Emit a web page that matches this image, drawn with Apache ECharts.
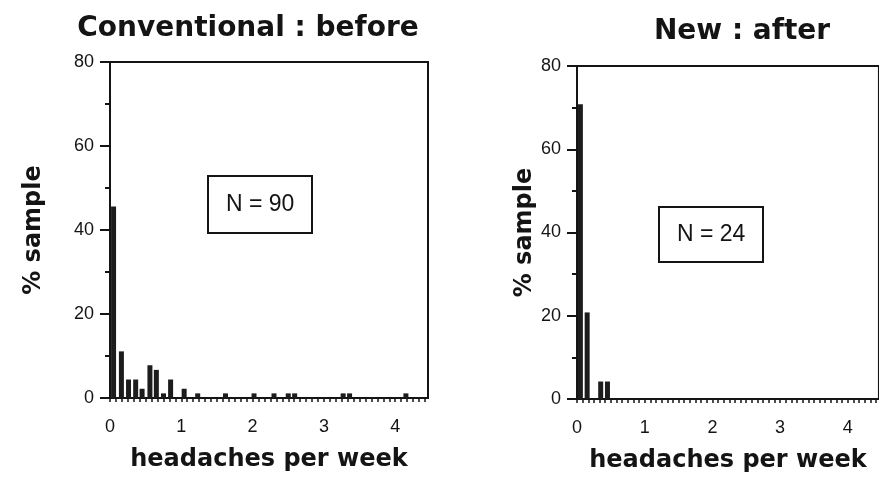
<!DOCTYPE html>
<html>
<head>
<meta charset="utf-8">
<script src="https://cdn.jsdelivr.net/npm/echarts@6/dist/echarts.min.js"></script>
<style>
html,body{margin:0;padding:0;background:#fff;}
#chart{width:879px;height:481px;}
</style>
</head>
<body>
<div id="chart"></div>
<script>
// ---- data ----
const beforeX = [0.05, 0.16, 0.26, 0.36, 0.45, 0.56, 0.65, 0.75, 0.85, 1.04, 1.23, 1.62, 2.02, 2.30, 2.50, 2.59, 3.27, 3.36, 4.15];
const beforePct = [45.6, 11.1, 4.4, 4.4, 2.2, 7.8, 6.7, 1.1, 4.4, 2.2, 1.1, 1.1, 1.1, 1.1, 1.1, 1.1, 1.1, 1.1, 1.1];
const afterX = [0.05, 0.15, 0.35, 0.45];
const afterPct = [70.8, 20.8, 4.2, 4.2];
const titles = ['Conventional : before', 'New : after'];
const nLabels = ['N = 90', 'N = 24'];
const yTicks = [0, 20, 40, 60, 80];
const xTickLabels = [0, 1, 2, 3, 4];

const ink = '#141414';
const boldFont = 'DejaVu Sans';
const plainFont = 'Liberation Sans';

function pairs(xs, ys) { return xs.map((x, i) => [x, ys[i]]); }

function xAxisFor(gridIndex) {
  return {
    type: 'value', gridIndex, min: 0, max: 4.46, interval: 1 / 12,
    name: 'headaches per week', nameLocation: 'middle', nameGap: 50,
    nameTextStyle: { fontFamily: boldFont, fontWeight: 'bold', fontSize: 24, color: ink },
    axisLine: { show: true, lineStyle: { color: ink, width: 2 } },
    axisTick: { show: true, length: 4, lineStyle: { color: ink, width: 1.5 } },
    splitLine: { show: false },
    axisLabel: {
      fontFamily: plainFont, fontSize: 18, color: ink, margin: 20,
      showMaxLabel: false,
      formatter: v => {
        const r = Math.round(v);
        return (Math.abs(v - r) < 1e-6 && xTickLabels.indexOf(r) >= 0) ? String(r) : '';
      }
    }
  };
}

function yAxisFor(gridIndex, gap) {
  return {
    type: 'value', gridIndex, min: yTicks[0], max: yTicks[yTicks.length - 1], interval: 20,
    name: '% sample', nameLocation: 'middle', nameGap: gap,
    nameTextStyle: { fontFamily: boldFont, fontWeight: 'bold', fontSize: 24, color: ink },
    axisLine: { show: true, lineStyle: { color: ink, width: 2 } },
    axisTick: { show: true, length: 10, lineStyle: { color: ink, width: 2 } },
    minorTick: { show: true, splitNumber: 2, length: 5, lineStyle: { color: ink, width: 2 } },
    splitLine: { show: false },
    minorSplitLine: { show: false },
    axisLabel: { fontFamily: plainFont, fontSize: 18, color: ink, margin: 16 }
  };
}

const chart = echarts.init(document.getElementById('chart'), null, { renderer: 'canvas' });
chart.setOption({
  animation: false,
  backgroundColor: '#fff',
  grid: [
    { left: 110, top: 62, width: 318, height: 336, show: true, borderColor: ink, borderWidth: 2, backgroundColor: 'transparent' },
    { left: 577, top: 66, width: 303, height: 333, show: true, borderColor: ink, borderWidth: 2, backgroundColor: 'transparent' }
  ],
  xAxis: [xAxisFor(0), xAxisFor(1)],
  yAxis: [yAxisFor(0, 64), yAxisFor(1, 38)],
  title: [
    { text: nLabels[0], left: 208, top: 176, padding: [17, 18], borderColor: ink, borderWidth: 2,
      textStyle: { fontFamily: plainFont, fontWeight: 'normal', fontSize: 23, color: ink } },
    { text: nLabels[1], left: 659, top: 207, padding: [16, 18], borderColor: ink, borderWidth: 2,
      textStyle: { fontFamily: plainFont, fontWeight: 'normal', fontSize: 23, color: ink } }
  ],
  graphic: [
    { type: 'text', x: 248, y: 15, style: { text: titles[0], font: 'bold 28px "DejaVu Sans"', fill: ink, textAlign: 'center' } },
    { type: 'text', x: 742, y: 18, style: { text: titles[1], font: 'bold 28px "DejaVu Sans"', fill: ink, textAlign: 'center' } }
  ],
  series: [
    { type: 'bar', xAxisIndex: 0, yAxisIndex: 0, data: pairs(beforeX, beforePct), barWidth: 5,
      itemStyle: { color: '#1c1c1c' } },
    { type: 'bar', xAxisIndex: 1, yAxisIndex: 1, data: pairs(afterX, afterPct), barWidth: 5,
      itemStyle: { color: '#1c1c1c' } }
  ]
});
</script>
</body>
</html>
